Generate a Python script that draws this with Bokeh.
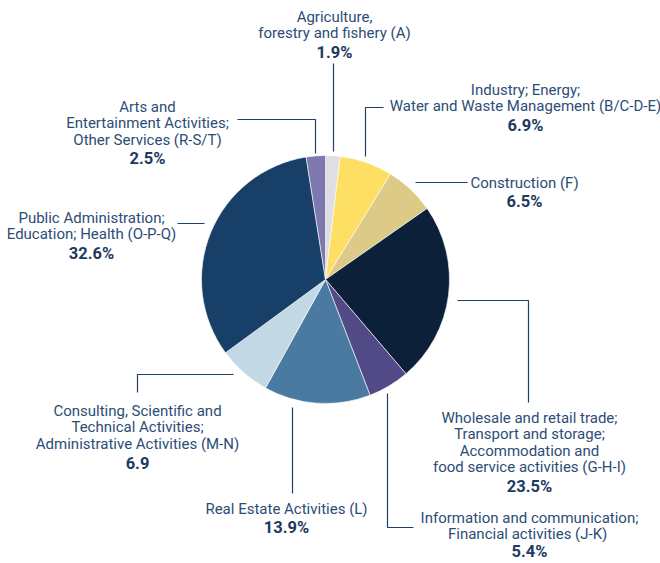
import math
from bokeh.plotting import figure
from bokeh.models import Range1d, ColumnDataSource
from bokeh.core.properties import value
from bokeh.embed import file_html
from bokeh.resources import INLINE

# ---- data ----
sectors = [
    "Agriculture,\nforestry and fishery (A)",
    "Industry; Energy;\nWater and Waste Management (B/C-D-E)",
    "Construction (F)",
    "Wholesale and retail trade;\nTransport and storage;\nAccommodation and\nfood service activities (G-H-I)",
    "Information and communication;\nFinancial activities  (J-K)",
    "Real Estate Activities (L)",
    "Consulting, Scientific and\nTechnical Activities;\nAdministrative Activities (M-N)",
    "Public Administration;\nEducation; Health (O-P-Q)",
    "Arts and\nEntertainment Activities;\nOther Services (R-S/T)",
]
shares = [1.9, 6.9, 6.5, 23.5, 5.4, 13.9, 6.9, 32.6, 2.5]
value_labels = ["1.9%", "6.9%", "6.5%", "23.5%", "5.4%", "13.9%", "6.9", "32.6%", "2.5%"]
colors = ["#dedee4", "#fddf63", "#dcca86", "#0c2039", "#524a86",
          "#4a7aa1", "#c2d9e5", "#173f68", "#7d78ad"]

# ---- layout (page pixel coordinates) ----
W, H = 660, 563
def Y(py):
    return H - py

cx, cy, R = 325, Y(279), 124

label_pos = [
    (334, 16), (525, 89), (524, 182), (529, 417), (529, 517),
    (286, 508), (137, 410), (91, 217), (147, 106),
]
value_gap = [19, 19, 19, 19, 17, 19, 19, 19, 19]
leaders = [
    [(333, 63), (333, 151)],
    [(383, 107), (365, 107), (365, 156)],
    [(467, 182), (415, 182)],
    [(457, 300), (528, 300), (528, 402)],
    [(413, 527), (387, 527), (387, 393)],
    [(292, 493), (292, 407)],
    [(233, 374), (137, 374), (137, 392)],
    [(177, 223), (204, 223)],
    [(237, 119), (315, 119), (315, 153)],
]

total = sum(shares)
starts, ends = [], []
cum = 0.0
for s in shares:
    a0 = math.pi / 2 - 2 * math.pi * cum / total
    cum += s
    a1 = math.pi / 2 - 2 * math.pi * cum / total
    starts.append(a1)
    ends.append(a0)

p = figure(width=W, height=H, output_backend="svg", toolbar_location=None,
           x_range=Range1d(0, W), y_range=Range1d(0, H),
           min_border=0, outline_line_color=None)
p.axis.visible = False
p.grid.visible = False

src = ColumnDataSource(dict(start=starts, end=ends, color=colors))
p.wedge(x=cx, y=cy, radius=R, start_angle="start", end_angle="end",
        direction="anticlock", fill_color="color", line_color="white",
        line_width=0.6, source=src)

for pts in leaders:
    p.line([q[0] for q in pts], [Y(q[1]) for q in pts], line_color="#1f3f68", line_width=1.2)

LH = 16.5
tx, ty, tt = [], [], []
vx, vy, vt = [], [], []
for lab, val, (ax, ay), g in zip(sectors, value_labels, label_pos, value_gap):
    lines = lab.split("\n")
    for i, ln in enumerate(lines):
        tx.append(ax); ty.append(Y(ay + i * LH)); tt.append(ln)
    vx.append(ax); vy.append(Y(ay + (len(lines) - 1) * LH + g)); vt.append(val)

p.text(x=tx, y=ty, text=tt, text_align="center", text_baseline="middle",
       text_font=value("Roboto"), text_font_size="15px", text_color="#2c4d76")
p.text(x=vx, y=vy, text=vt, text_align="center", text_baseline="middle",
       text_font=value("Roboto"), text_font_size="16.5px", text_font_style="bold",
       text_color="#1e3a60")

open("out.html", "w").write(file_html(p, INLINE))
